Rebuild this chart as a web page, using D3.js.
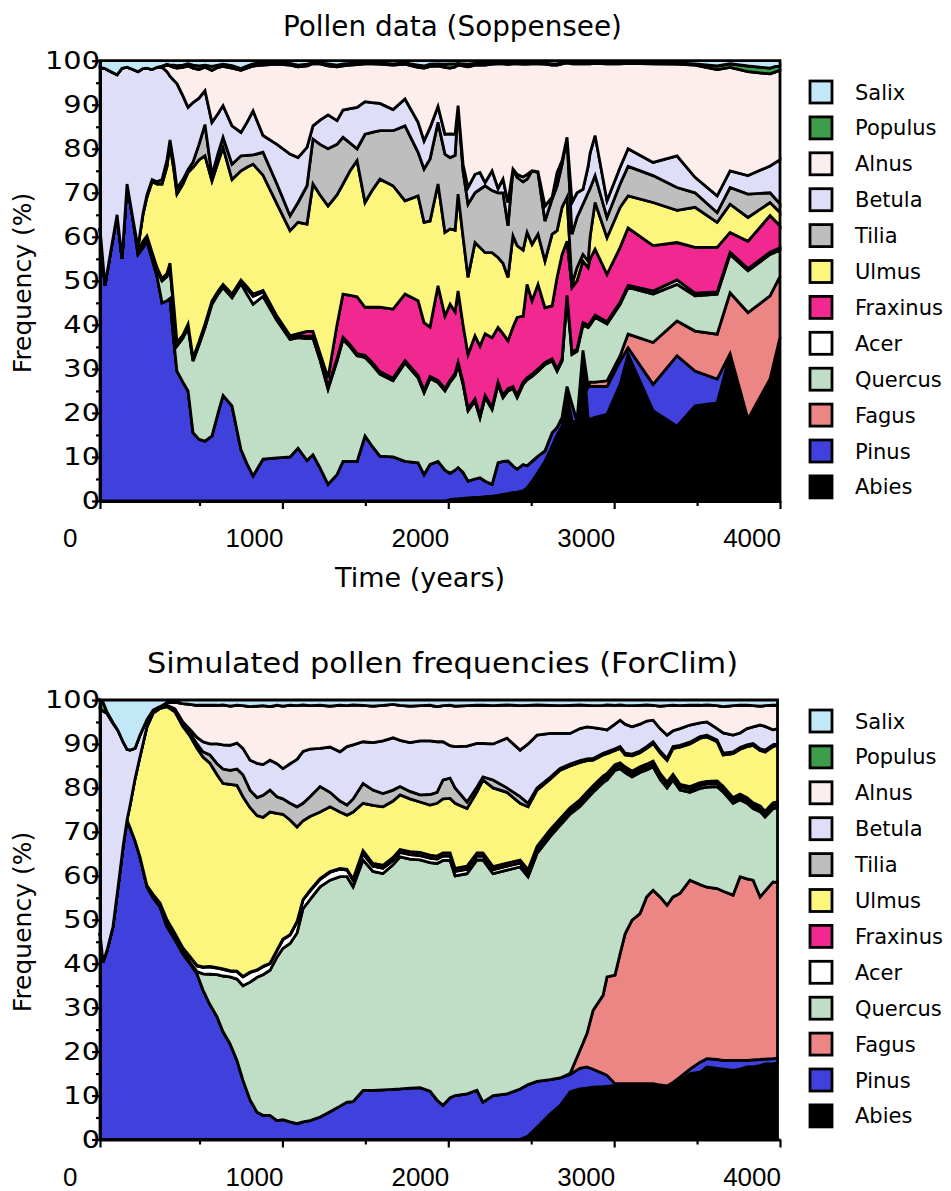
<!DOCTYPE html>
<html>
<head>
<meta charset="utf-8">
<script src="https://cdn.jsdelivr.net/npm/d3@7"></script>
<style>
body { margin: 0; background: #fff; }
svg text { fill: #000; }
</style>
</head>
<body>
<svg id="chart" width="951" height="1191"></svg>
<script>
var species = ["Abies","Pinus","Fagus","Quercus","Acer","Fraxinus","Ulmus","Tilia","Betula","Alnus","Populus","Salix"];
var colors = ["#000000","#4040dc","#ec8684","#c0dec6","#ffffff","#f0288f","#fdf67e","#bebebe","#dedef8","#fdeeee","#3d9d4b","#c2e8f8"];
var yTicks = [0,10,20,30,40,50,60,70,80,90,100];
var xTickLabels = [0,1000,2000,3000,4000];

// Soppensee pollen record
var obsYears = [-100,-70,-34,3,33,63,99,129,159,183,
  214,244,274,304,322,346,364,400,431,461,
  497,533,575,612,642,696,750,786,823,883,
  967,1046,1094,1148,1184,1227,1275,1329,1365,1408,
  1450,1498,1540,1588,1667,1739,1818,1854,1890,1938,
  1980,2011,2041,2059,2089,2119,2161,2191,2222,2264,
  2300,2330,2360,2390,2415,2451,2475,2505,2541,2583,
  2626,2656,2686,2716,2746,2776,2812,2843,2855,2885,
  2957,3036,3084,3235,3379,3488,3621,3699,3807,3940,
  4000];
var obsAbies = [0,0,0,0,0,0,0,0,0,0,
  0,0,0,0,0,0,0,0,0,0,
  0,0,0,0,0,0,0,0,0,0,
  0,0,0,0,0,0,0,0,0,0,
  0,0,0,0,0,0,0,0,0,0,
  0,0.3,0.5,0.5,0.6,0.7,0.8,0.8,1,1.1,
  1.3,1.5,1.7,1.9,2,2.3,3,4.5,6.5,9,
  12.5,15,17,24,18.2,17.8,34,18.6,18.6,19,
  19.7,26.5,33.3,20.5,17,21.6,22.3,33.3,17.4,27.3,
  37];
var obsPinus = [62,49,57,65,55,72,64,56,57.5,59,
  55,51,45,45.5,46,36,29.5,27,25,15.5,
  14,13.6,14.8,20,24,21.6,11.7,8.5,5.7,9.5,
  9.8,10,12,9.2,10.5,7.5,3.8,6,9,9,
  9,14.8,12.5,10.2,10,9,8.7,6,8.3,9,
  7,6,6.5,7.1,5.9,3.8,4.2,4.5,3.5,2.7,
  7.4,7.5,7.4,6.1,5.2,6,5,4.5,3.7,2.4,
  3,1.7,2,2,3.8,0.4,0.2,7.4,7.4,7,
  6.3,5.3,1.5,6,16,7.9,5.4,0.2,1.2,0.4,
  0.2];
var obsFagus = [0,0,0,0,0,0,0,0,0,0,
  0,0,0,0,0,0,0,0,0,0,
  0,0,0,0,0,0,0,0,0,0,
  0,0,0,0,0,0,0,0,0,0,
  0,0,0,0,0,0,0,0,0,0,
  0,0,0,0,0,0,0,0,0,0,
  0,0,0,0,0,0,0,0,0,0,
  0,0,0,0,0,0,0,0,1,1,
  1.3,1.2,3.1,9.5,7.9,9.1,10.2,13.8,24.2,18.9,
  13.8];
var obsQuercus = [0,0,0,0,0,0,0,0.5,1,0.7,
  1,1.5,5,5.5,7,7,5.7,10,14.4,16.3,
  21.5,25.8,29.9,27,24.5,24.6,37.7,38.5,39,37,
  31.2,26.7,25.1,27.7,26.5,24.5,21.6,25.8,27.7,26,
  24,17.8,18.5,18.6,17.3,22.4,19.3,18.6,19.5,17.9,
  18,20.7,21.5,23.4,20,16,17.7,13.6,19,17,
  17.8,14.5,15.9,17.5,16.3,18.2,19.5,19.3,19.3,19.6,
  16.3,12.8,12.8,20.2,11.3,15.8,5.8,13.4,13,14.7,
  12.9,11.7,10.6,11,8.3,8,9.1,8.7,9.5,9.4,
  6];
var obsAcer = [0,0,0,0,0,0,0,0.3,0.5,0.5,
  0.5,0.5,0.5,0.5,0.5,0.5,0.5,0.5,0.6,0.5,
  0.5,0.6,0.5,0.5,0.5,0.6,0.6,1.3,1.8,1,
  0.6,0.5,0.5,0.5,0.5,0.5,0.5,0.5,0.5,0.5,
  0.5,0.5,0.5,0.6,0.6,0.5,0.5,0.5,0.5,0.5,
  0.5,0.5,0.5,0.5,0.5,0.5,0.5,0.5,0.5,0.5,
  0.5,0.5,0.5,0.5,0.5,0.5,0.5,0.5,0.5,0.5,
  0.5,0.5,0.5,0.5,0.5,0.5,0.5,0.5,0.5,0.5,
  0.5,0.5,0.5,0.7,1,0.6,0.5,0.5,0.5,0.5,
  0.5];
var obsFraxinus = [0,0,0,0,0,0,0,0,0,0,
  0,0,0,0.2,0.5,0.5,0.3,0.2,0.2,0.2,
  0.2,0.2,0.2,0.2,0.2,0.2,0.2,0.4,0.5,0.3,
  0.4,0.3,0.4,1.1,1,1,2.1,7.7,9.8,11.2,
  12.9,10.9,12.5,14.6,15.7,15.1,17,15.4,11.2,21.5,
  16.5,17.2,14,16.2,13,12.3,14.3,15.8,14,15.8,
  12.4,14,10.9,13.5,17.7,15,21.2,16.7,19.2,12.4,
  12,20.8,23.7,12.3,14.7,15.5,14,13.1,14.5,15,
  10.8,12.4,13,10.3,8.5,10.4,10.1,4.5,6.2,8.3,
  5];
var obsUlmus = [0,0,0,0,0,0,0,0.8,6,8.8,
  16,19,21.5,24.3,27,31,33.7,34.3,34.4,43.3,
  41.3,38.2,27.3,29.3,31.1,26,24.8,27.1,29.5,26.2,
  25.5,23.9,25.3,24.4,33.5,36,39,29.5,25,28.3,
  30.9,23.8,26.5,29.1,28,21.2,23.8,22.8,24.1,23.1,
  19,17.1,18.5,22,20,17.5,21.2,22.4,18.4,19.3,
  15.9,16,14.4,20.7,16.3,15,11.8,12.8,11.4,10.6,
  16.3,10.6,10.7,10,0.7,3,1.5,1.5,5,10.6,
  8.3,9.1,7.3,9.8,7.3,9.1,5.7,6.4,5.4,3,
  3];
var obsTilia = [0,0,0,0,0,0,0,0,0.3,0.5,
  0.5,0.5,1,1.5,1,1.5,1.3,1,0.7,1.2,
  3.5,7.1,1.3,2,2.3,3.5,3.4,2.7,2.1,5.2,
  4.5,3.4,4.5,8.7,10.2,11.5,13,11.5,10.6,6.3,
  2.7,15.5,13.2,11,12.5,17,9.9,12.1,14.1,14,
  17.8,16.2,17,20.1,15,16.6,11.3,13.2,15.2,14.1,
  14.7,16,11.7,15.2,15.5,15.5,12.1,16.7,14,9.1,
  8,10.2,9.8,13.6,11.4,11.4,11.4,15.5,11,6.1,
  4.6,5.3,6.7,6.1,5.2,3.3,2.2,3.8,5.3,2.2,
  2];
var obsBetula = [36.5,49.2,40.5,31.8,43.3,26.5,34,39.9,32.9,28.8,
  25,26,25.5,20,14.5,19,23.8,19,14.1,13.5,
  10.5,7.7,12,9,7.2,8.7,5.3,7.5,10,3.8,
  9,14,10.2,8.7,3,5.5,7.7,5.4,6.2,7.8,
  9.4,7.4,6.8,6.2,4.8,6.1,6.8,6.4,7.1,3.6,
  4.5,5.4,4.8,0,1.5,3.8,4.2,3.8,0.7,4.5,
  1,3.1,5.3,0,0.7,1.1,1.1,0,0.2,3.4,
  0.4,3,0.8,0,7.2,5.6,3.4,6,8,9.1,
  3.8,3.8,4,3,7.2,3.5,3.8,3.8,4.2,6.1,
  10];
var obsAlnus = [0,0,0,0,0,0,0,0,0,0,
  0,0,0.1,1.5,2.3,3,3.5,6.5,9.4,7.8,
  6.5,5.3,11.8,10.5,8.9,13.1,14.1,12.3,10.2,16,
  18.2,20.2,20.6,18.5,14.1,12.8,11.1,12.2,10,9.9,
  9.7,8.6,8.8,8.9,10.1,7.9,12.5,16.5,13.9,9.2,
  15.2,14.9,15.3,9.2,22.3,27.4,24.8,24.4,26.7,24.2,
  28.3,26.2,31.4,23.9,25.1,25.6,25,24.3,24.5,32.2,
  30,24.4,22,16.9,31.5,29.3,28.5,23.3,20.3,16.4,
  31.1,23.5,19.4,22.4,20.8,25.5,28.7,23.5,23.6,20.9,
  20.3];
var obsPopulus = [0,0,0,0,0,0,0,0,0,0,
  0,0,0.2,0.2,0.2,0.5,0.6,0.5,0.5,0.7,
  0.8,0.5,0.9,0.5,0.5,0.6,0.4,0.5,0.5,0.5,
  0.3,0.4,0.4,0.4,0.2,0.2,0.5,0.4,0.5,0.4,
  0.4,0.3,0.3,0.3,0.3,0.3,0.5,0.5,0.5,0.5,
  0.7,1,0.7,0.4,0.5,0.6,0.4,0.4,0.4,0.3,
  0.2,0.2,0.3,0.3,0.3,0.3,0.3,0.3,0.3,0.3,
  0.3,0.3,0.3,0.2,0.3,0.3,0.3,0.3,0.3,0.3,
  0.3,0.3,0.3,0.3,0.3,0.3,0.8,0.8,1.3,1.3,
  1.2];
var obsSalix = [1.5,1.8,2.5,3.2,1.7,1.5,2,2.5,1.8,1.7,
  2,1.5,1.2,0.8,1,1,1.1,1,0.7,1,
  1.2,1,1.3,1,0.8,1.1,1.8,1.2,0.7,0.5,
  0.5,0.6,1,0.8,0.5,0.5,0.7,1,0.7,0.6,
  0.5,0.4,0.4,0.5,0.7,0.5,1,1.2,0.8,0.7,
  0.8,0.7,0.7,0.6,0.7,0.8,0.6,0.6,0.6,0.5,
  0.5,0.5,0.5,0.4,0.4,0.5,0.5,0.4,0.4,0.5,
  0.7,0.7,0.4,0.3,0.4,0.4,0.4,0.4,0.4,0.3,
  0.4,0.4,0.3,0.4,0.5,0.7,1.2,0.7,1.2,1.7,
  1];

// ForClim simulation
var simYears = [-100,-82,-58,-22,9,39,63,81,111,141,
  183,220,262,304,352,400,443,485,521,563,
  606,642,684,726,762,805,847,883,925,967,
  1003,1046,1088,1124,1166,1227,1287,1347,1389,1426,
  1486,1546,1606,1667,1709,1769,1830,1890,1932,1968,
  2011,2041,2113,2173,2209,2270,2354,2433,2481,2535,
  2614,2674,2734,2794,2836,2873,2933,2957,3005,3036,
  3066,3108,3156,3196,3235,3277,3319,3355,3397,3457,
  3518,3560,3621,3657,3717,3759,3801,3838,3880,3910,
  3958,3985];
var simAbies = [0,0,0,0,0,0,0,0,0,0,
  0,0,0,0,0,0,0,0,0,0,
  0,0,0,0,0,0,0,0,0,0,
  0,0,0,0,0,0,0,0,0,0,
  0,0,0,0,0,0,0,0,0,0,
  0,0,0,0,0,0,0,0,0.8,2.8,
  5.8,7.7,10.8,11.5,11.7,11.9,12,12.1,12.3,12.3,
  12.3,12.3,12.3,12.3,12.3,12,11.9,12.6,13.4,15,
  15.3,16.5,16.2,16,15.7,16,16.5,16.5,16.8,17.2,
  17.2,17.5];
var simPinus = [47,40.4,43,48.4,57.5,66.6,72.7,71,68,64.3,
  57.5,55,52.9,48.4,45.5,42.2,40,37.7,34,30.7,
  27.9,24.5,21.8,18,13.5,9,6.2,5.5,5.5,4.3,
  4.5,4,3.6,4,4.3,5.1,6.3,7.6,8.5,8.6,
  11.2,11.2,11.3,11.4,11.5,11.7,11.8,11,9,7.8,
  9.5,10,10.4,11.2,8.5,10,10.4,11.5,11.7,10.4,
  7.8,6.3,4,4.7,4.8,4.1,3,2.5,0.4,0.4,
  0.4,0.4,0.4,0.4,0.4,0.4,0.3,0.4,0.8,1,
  2.3,1.9,2,2,2.3,2,1.5,1.6,1.4,1.1,
  1.2,1];
var simFagus = [0,0,0,0,0,0,0,0,0,0,
  0,0,0,0,0,0,0,0,0,0,
  0,0,0,0,0,0,0,0,0,0,
  0,0,0,0,0,0,0,0,0,0,
  0,0,0,0,0,0,0,0,0,0,
  0,0,0,0,0,0,0,0,0,0,
  0,0,0.2,4.1,7.6,13.4,17.8,22.4,24.7,29.6,
  34.1,37.2,38.7,42.5,44,42.8,41.1,42.2,41.8,43,
  40.4,39,38.9,38.5,37.6,41.8,41.3,40.9,37,38.2,
  40.2,40];
var simQuercus = [0,0,0,0,0,0,0,0,0,0,
  0.3,0.5,0.6,1.1,0.8,0.6,0.3,0.5,3.7,6.9,
  9.6,12.7,15.2,18.5,21.5,26.8,30.7,32,33,37.2,
  39,40.6,43.4,48.5,50.3,52.4,52.7,52.2,51.3,48.9,
  52.4,49.8,49.2,51.1,52.8,52.1,51.8,52,53.8,55.7,
  54,50,50.1,52.4,55.1,50.5,50.9,50.5,47.3,51.9,
  55.3,57.5,59,55.5,53.4,49.6,48.4,44.8,46.6,42.1,
  36.7,32.6,32.1,28.9,28.1,26.8,26.7,26.6,23.5,20,
  21.9,22.8,23.2,22.6,20.9,17.5,17.2,16.3,19.4,16.9,
  16.7,17];
var simAcer = [0,0,0,0,0,0,0,0,0,0,
  0,0.3,0.3,0.4,0.5,0.7,1.2,1.3,1.5,1.7,
  1.5,1.5,1.3,1.7,2,2.2,1.6,1.8,1.5,1.5,
  2,1.9,2.5,2,1.9,1.7,1.8,1.7,1.5,1.5,
  1.4,1.2,1.2,1,1,1,1,1,1,1,
  1,1,1,0.9,0.9,0.9,0.9,0.9,0.9,0.9,
  0.9,0.8,0.8,0.8,0.8,0.8,0.8,0.8,0.7,0.7,
  0.7,0.7,0.7,0.7,0.7,0.7,0.7,0.7,0.7,0.7,
  0.7,0.7,0.7,0.7,0.7,0.7,0.7,0.7,0.7,0.7,
  0.7,0.7];
var simFraxinus = [0,0,0,0,0,0,0,0,0,0,
  0,0,0,0.1,0.1,0.1,0.1,0.1,0.1,0.1,
  0.1,0.1,0.1,0.1,0.1,0.1,0.1,0.1,0.1,0.1,
  0.1,0.1,0.1,0.1,0.2,0.2,0.2,0.2,0.2,0.3,
  0.7,0.6,0.7,0.7,0.7,0.7,0.7,0.7,0.7,0.7,
  0.7,0.7,0.7,0.7,0.7,0.7,0.7,0.7,0.7,0.7,
  0.7,0.7,0.7,0.7,0.7,0.7,0.7,0.7,0.6,0.6,
  0.6,0.6,0.6,0.6,0.6,0.6,0.6,0.6,0.6,0.6,
  0.6,0.6,0.6,0.6,0.6,0.6,0.6,0.6,0.6,0.6,
  0.6,0.6];
var simUlmus = [0,0,0,0,0,0,0,5,14,22.8,
  36.1,41.2,44.3,48.5,50.4,50.4,50.2,49.4,47.7,46.2,
  43.9,42.2,42.4,42.3,40.9,37.4,35.1,33.9,34.4,31.1,
  28.4,26.1,21.5,17.9,16.8,15.1,14.7,12.8,12.3,15.2,
  10.8,13.2,13.3,12.8,12.4,12,11.5,11.4,12,12.3,
  12.4,14.8,13.1,13.9,16.6,17.9,16.1,12.9,14.3,12.8,
  11.5,11,9.5,8.5,7.2,5.8,4.8,4.5,3.2,3.3,
  2.7,3.5,3.2,3.6,4,4.7,5,5.9,8.5,9.7,
  10.1,10.1,8.9,7.1,10,10.2,11.6,13.1,12.6,13.5,
  12.8,13];
var simTilia = [0,0,0,0,0,0,0,0,0,0,
  0,0,0,0.1,0.3,0.6,0.7,1,1.2,1.9,
  2.5,3.3,3.2,3.7,5,4,4.1,5,5,3.8,
  3.5,3.8,4.6,4,4.5,5.8,3.3,2.5,2.3,3,
  4.5,3.5,3,2.5,1.9,1.7,1.6,2.4,2.5,4.3,
  4.6,3.5,1.5,1.1,0.7,1.8,1,1.5,0.8,0.5,
  0.4,0.4,0.4,0.4,0.4,0.4,0.4,0.4,0.4,0.4,
  0.4,0.4,0.4,0.4,0.4,0.4,0.4,0.4,0.4,0.4,
  0.4,0.4,0.4,0.4,0.4,0.4,0.4,0.4,0.4,0.4,
  0.4,0.4];
var simBetula = [51,57.1,54,46.3,35.5,23.9,16.1,12.6,7,4.9,
  1.6,0.7,0.3,0.2,0.4,0.4,0.8,1.5,2.3,2.5,
  4.5,5.5,5.7,5.9,6,6.8,7.8,7,6.8,7.5,
  6.9,9,10.8,11.8,10.8,8.7,10.3,11.2,13.3,12.3,
  9.5,10.8,12,11.9,10.5,11.1,12.3,12.2,11.5,8.7,
  7.4,9.4,12.7,9.9,7.6,8.2,11.3,10.6,13.5,12,
  10,8,7,7.3,7.3,7,5.5,5,5.6,6,
  6.6,6.2,6.1,5.8,4.9,5.1,5.3,3.6,3.8,3.9,
  3.1,3,2.6,4.6,3.8,3.3,3.7,3.8,5.4,5.4,
  3.4,3.3];
var simAlnus = [0,0,0,0,0,0,0,0,0,0,
  0,0,0.1,0.6,1.5,4.2,5.7,7.3,8.3,8.8,
  8.8,9.1,8.9,8.6,9.7,12.2,13,13.4,12.2,13.3,
  14.2,13.3,12.2,10.6,9.9,9.8,9.3,10.6,9.3,9.1,
  8.3,8.3,8.1,7.6,8,8.3,8,8.1,8,8.2,
  9.2,9.2,9.2,8.7,8.7,8.7,7.6,10.1,8.8,6.9,
  6.4,6.3,6.4,5.4,4.9,5,5.4,5.7,4.3,3.5,
  4.3,4.8,4.3,3.7,3.4,5.1,6.7,5.8,5.2,4.5,
  4,3.9,5.2,6,6.7,6.3,5.3,4.8,4.3,4.7,
  5.6,5.3];
var simPopulus = [2,2,0.3,0.2,0,0,0,0,0,0,
  0,0,0,0,0,0,0,0,0,0,
  0,0,0,0,0,0,0,0,0,0,
  0,0,0,0,0,0,0,0,0,0,
  0,0,0,0,0,0,0,0,0,0,
  0,0,0,0,0,0,0,0,0,0,
  0,0,0,0,0,0,0,0,0,0,
  0,0,0,0,0,0,0,0,0,0,
  0,0,0,0,0,0,0,0,0,0,
  0,0];
var simSalix = [0,0.5,2.7,5.1,7,9.5,11.2,11.4,11,8,
  4.5,2.3,1.5,0.6,0.5,0.8,1,1.2,1.2,1.2,
  1.2,1.1,1.4,1.2,1.3,1.5,1.4,1.3,1.5,1.2,
  1.4,1.2,1.3,1.1,1.3,1.2,1.4,1.2,1.3,1.1,
  1.2,1.4,1.2,1,1.2,1.4,1.3,1.2,1.5,1.3,
  1.2,1.4,1.3,1.2,1.2,1.3,1.1,1.3,1.2,1.1,
  1.2,1.3,1.2,1.1,1.2,1.3,1.2,1.1,1.2,1.1,
  1.2,1.3,1.2,1.1,1.2,1.4,1.3,1.2,1.3,1.2,
  1.2,1.1,1.3,1.5,1.3,1.2,1.2,1.3,1.4,1.3,
  1.2,1.2];

var obsCols = [obsAbies,obsPinus,obsFagus,obsQuercus,obsAcer,obsFraxinus,obsUlmus,obsTilia,obsBetula,obsAlnus,obsPopulus,obsSalix];
var simCols = [simAbies,simPinus,simFagus,simQuercus,simAcer,simFraxinus,simUlmus,simTilia,simBetula,simAlnus,simPopulus,simSalix];

function buildRows(years, cols) {
    return years.map(function(t, i) {
        var row = {year: t};
        species.forEach(function(s, k) { row[s] = +cols[k][i] || 0; });
        return row;
    });
}

var svg = d3.select("#chart");
var sans = "'DejaVu Sans', Verdana, sans-serif";
var narrow = "'Liberation Sans', Arial, sans-serif";

var x = d3.scaleLinear().domain([-100, 4000]).range([100, 780]);

function drawPanel(p) {
    var g = svg.append("g");
    var y = d3.scaleLinear().domain([0, 1]).range([p.bottom, p.top]);
    var yPct = d3.scaleLinear().domain([0, 100]).range([p.bottom, p.top]);

    var layers = d3.stack().keys(species).offset(d3.stackOffsetExpand)(p.rows);

    var area = d3.area()
        .x(function(d) { return x(d.data.year); })
        .y0(function(d) { return y(d[0]); })
        .y1(function(d) { return y(d[1]); });

    g.append("g").selectAll("path")
        .data(layers)
        .enter().append("path")
        .attr("d", area)
        .attr("fill", function(d, i) { return colors[i]; })
        .attr("stroke", "#000")
        .attr("stroke-width", 2.8)
        .attr("stroke-linejoin", "miter");

    // y axis
    var yAxis = g.append("g")
        .attr("transform", "translate(100,0)")
        .call(d3.axisLeft(yPct).tickValues(yTicks).tickSize(8).tickSizeOuter(0).tickPadding(-8));
    yAxis.select(".domain").attr("stroke-width", 3);
    yAxis.selectAll(".tick line").attr("stroke-width", 2.2);
    yAxis.selectAll("text")
        .attr("font-family", sans)
        .attr("font-size", 24)
        .attr("transform", "scale(1.2,1)");

    var yMinor = g.append("g")
        .attr("transform", "translate(100,0)")
        .call(d3.axisLeft(yPct).tickValues(d3.range(5, 100, 10)).tickSize(4).tickFormat(""));
    yMinor.select(".domain").remove();
    yMinor.selectAll(".tick line").attr("stroke-width", 2.2);

    // x axis
    var xAxis = g.append("g")
        .attr("transform", "translate(0," + p.bottom + ")")
        .call(d3.axisBottom(x).tickValues([-100, 1000, 2000, 3000, 4000]).tickSize(8).tickSizeOuter(0).tickFormat(""));
    xAxis.select(".domain").attr("stroke-width", 3);
    xAxis.selectAll(".tick line").attr("stroke-width", 2.2);

    var xMinor = g.append("g")
        .attr("transform", "translate(0," + p.bottom + ")")
        .call(d3.axisBottom(x).tickValues([500, 1500, 2500, 3500]).tickSize(5).tickFormat(""));
    xMinor.select(".domain").remove();
    xMinor.selectAll(".tick line").attr("stroke-width", 2.2);

    g.append("g").selectAll("text")
        .data(xTickLabels)
        .enter().append("text")
        .attr("x", function(d) { return d === 0 ? x(0) - 39 : x(d) + 1; })
        .attr("y", p.bottom + 46)
        .attr("text-anchor", "end")
        .attr("font-family", narrow)
        .attr("font-size", 26)
        .text(function(d) { return d; });

    g.append("text")
        .attr("x", p.titleX)
        .attr("y", p.titleY)
        .attr("font-family", sans)
        .attr("font-size", p.titleSize)
        .attr("textLength", p.titleLen)
        .attr("lengthAdjust", "spacingAndGlyphs")
        .text(p.title);

    g.append("text")
        .attr("transform", "translate(31," + p.yLabelMid + ") rotate(-90)")
        .attr("text-anchor", "middle")
        .attr("font-family", sans)
        .attr("font-size", 25)
        .text("Frequency (%)");

    if (p.xTitle) {
        g.append("text")
            .attr("x", 420)
            .attr("y", p.bottom + 86)
            .attr("text-anchor", "middle")
            .attr("font-family", sans)
            .attr("font-size", 27)
            .text(p.xTitle);
    }

    // legend, top entry first
    var legend = g.append("g").selectAll("g")
        .data(species.slice().reverse())
        .enter().append("g")
        .attr("transform", function(d, i) { return "translate(810," + (p.legendTop + i * 35.9) + ")"; });
    legend.append("rect")
        .attr("x", 0).attr("y", -11)
        .attr("width", 22).attr("height", 22)
        .attr("fill", function(d) { return colors[species.indexOf(d)]; })
        .attr("stroke", "#000")
        .attr("stroke-width", 2.8);
    legend.append("text")
        .attr("x", 45).attr("y", 7.5)
        .attr("font-family", sans)
        .attr("font-size", 21)
        .text(function(d) { return d; });
}

drawPanel({
    rows: buildRows(obsYears, obsCols),
    top: 60.7, bottom: 501,
    title: "Pollen data (Soppensee)", titleX: 283, titleY: 36, titleSize: 27.5, titleLen: 339,
    yLabelMid: 283, xTitle: "Time (years)", legendTop: 92
});

drawPanel({
    rows: buildRows(simYears, simCols),
    top: 700, bottom: 1139.5,
    title: "Simulated pollen frequencies (ForClim)", titleX: 147, titleY: 673, titleSize: 29, titleLen: 591,
    yLabelMid: 922, xTitle: null, legendTop: 721
});
</script>
</body>
</html>
